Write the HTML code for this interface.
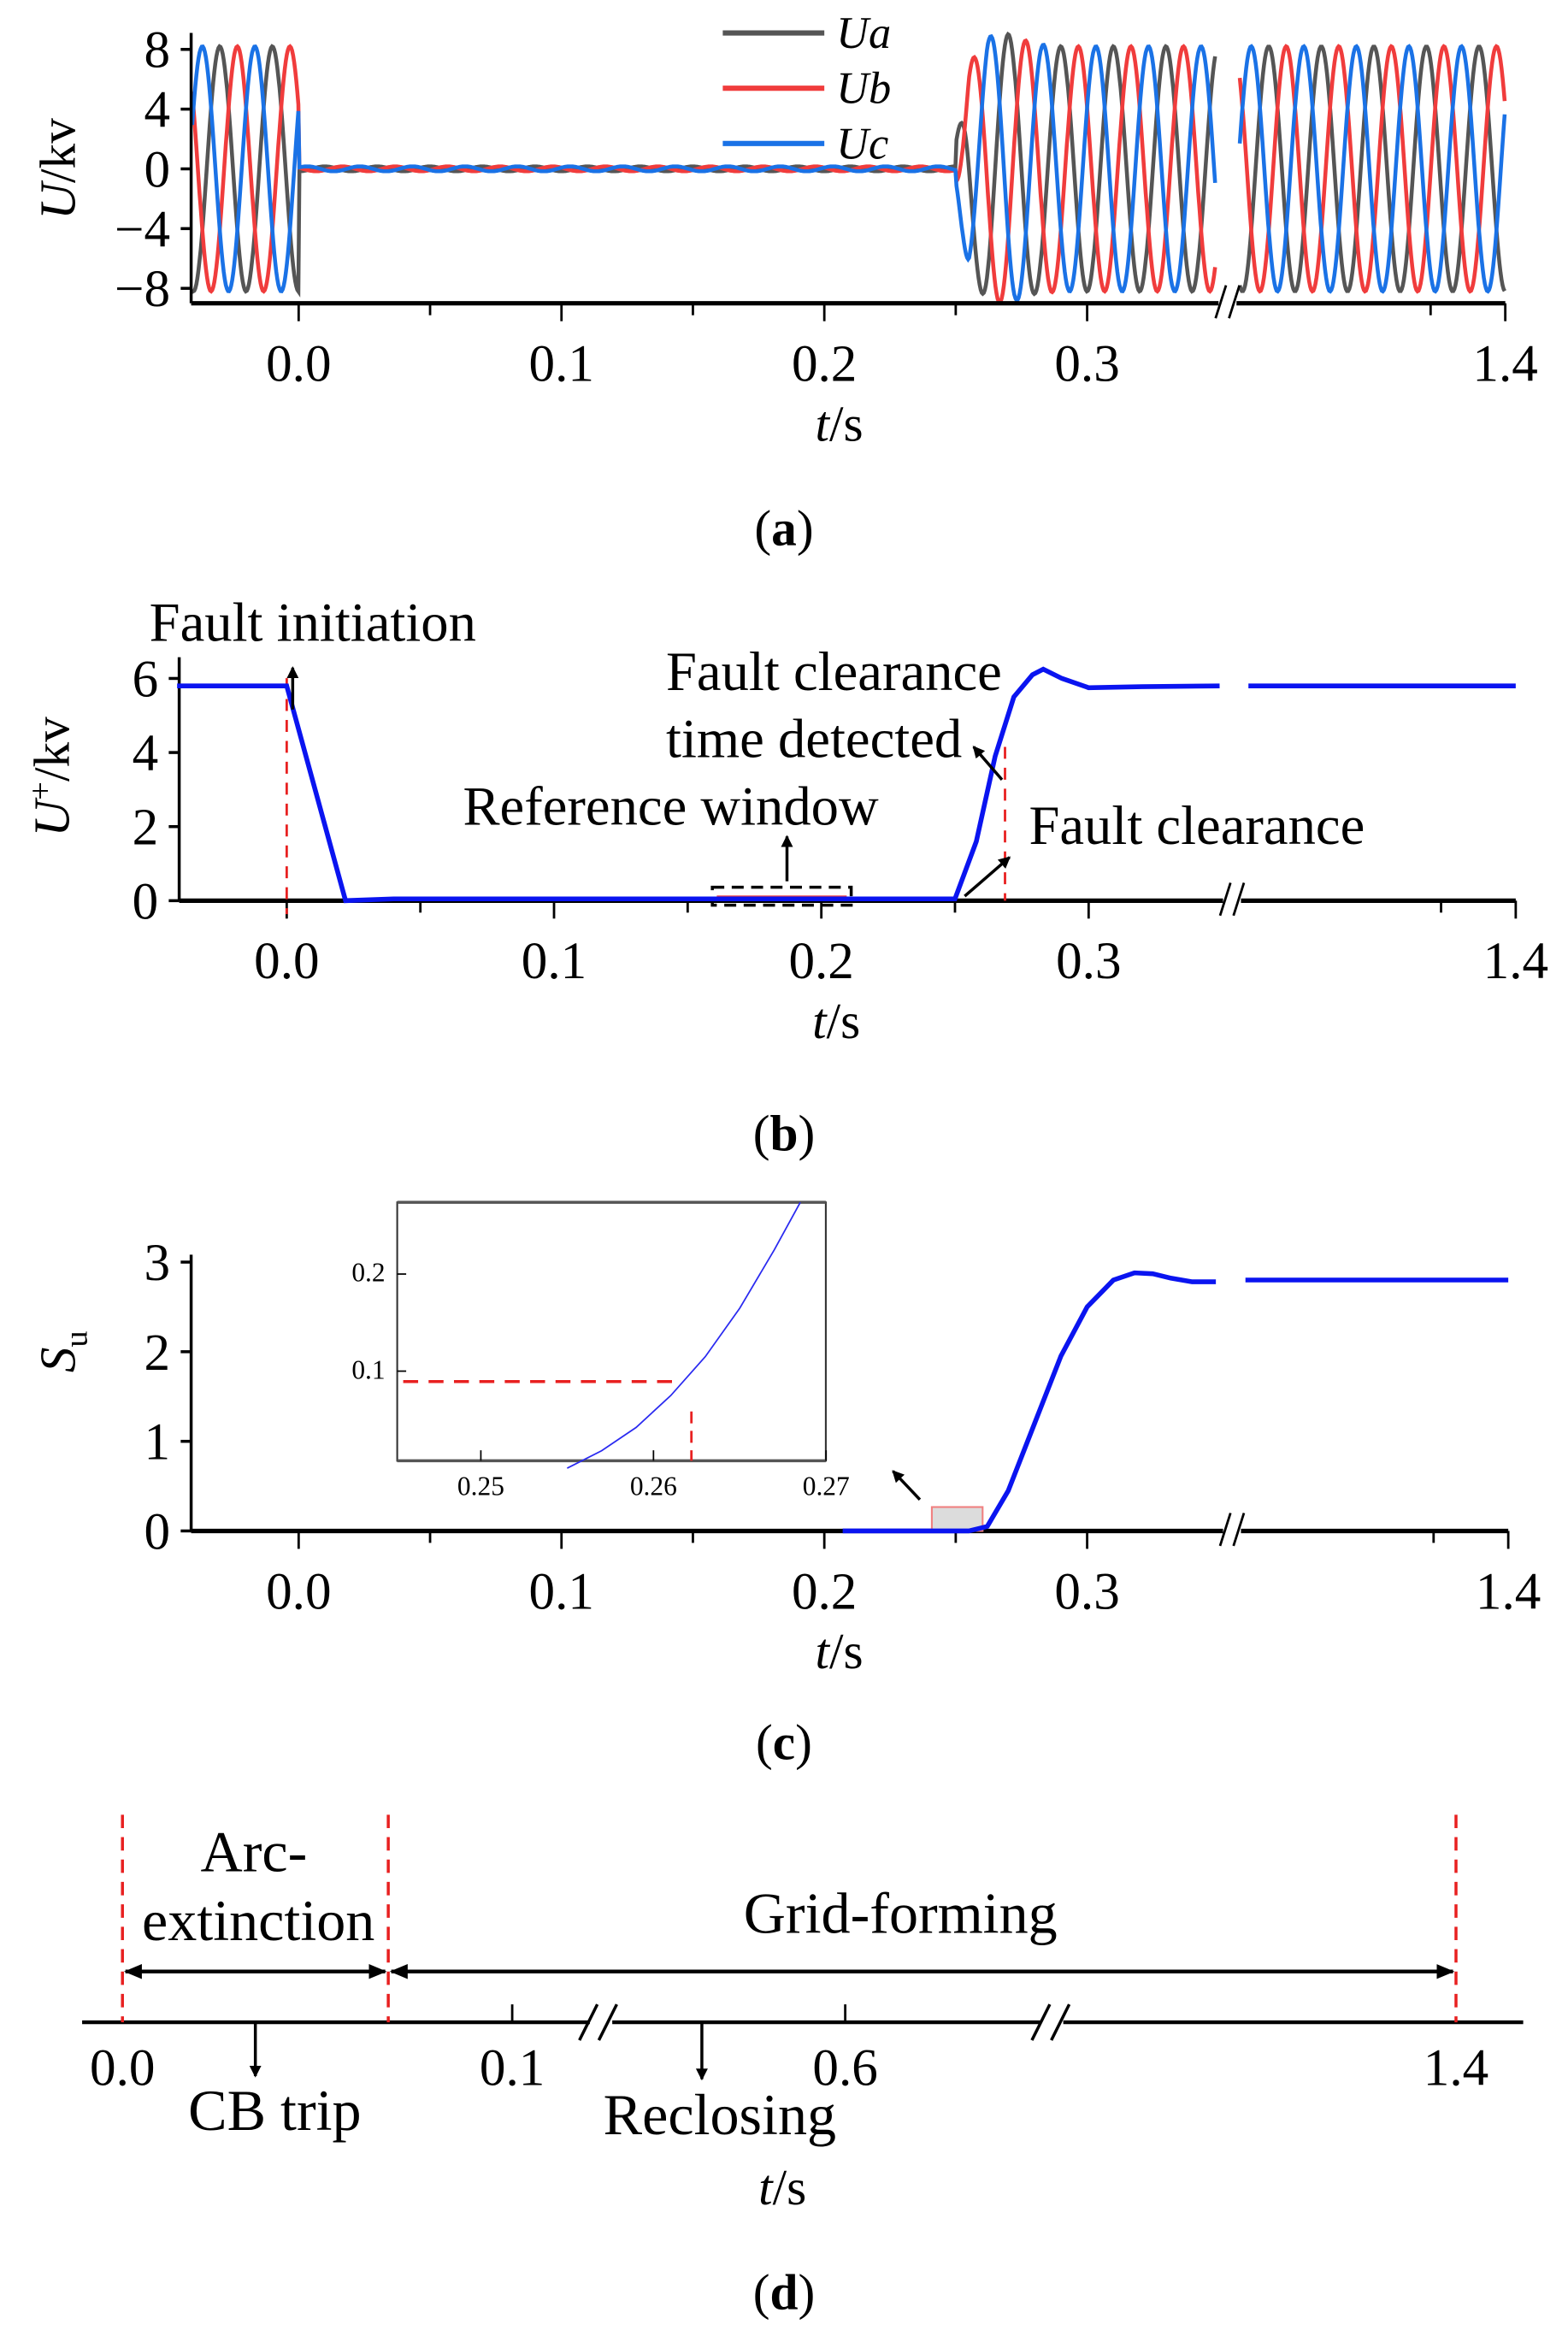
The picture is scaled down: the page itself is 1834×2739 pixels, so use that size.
<!DOCTYPE html>
<html><head><meta charset="utf-8"><style>
html,body{margin:0;padding:0;background:#fff;}
svg{display:block;}
text{font-family:"Liberation Serif",serif;fill:#000;}
</style></head><body>
<svg id="fig" width="1834" height="2739" viewBox="0 0 1050 1568" xmlns="http://www.w3.org/2000/svg">
<defs>
<marker id="ah" markerWidth="8" markerHeight="8" refX="7" refY="4" orient="auto" markerUnits="userSpaceOnUse"><path d="M0,0 L8,4 L0,8 z" fill="#000"/></marker>
<marker id="ah2" markerWidth="12" markerHeight="10" refX="11" refY="5" orient="auto" markerUnits="userSpaceOnUse"><path d="M0,0 L12,5 L0,10 z" fill="#000"/></marker>
<marker id="ah2s" markerWidth="12" markerHeight="10" refX="1" refY="5" orient="auto" markerUnits="userSpaceOnUse"><path d="M12,0 L0,5 L12,10 z" fill="#000"/></marker>
</defs>
<g id="pa"></g>
<g id="pb"></g>
<g id="pc"></g>
<g id="pd"></g>
</svg>
<script>
// ---- Panel (a) data ----
const phaseNames = ["Ua","Ub","Uc"];
const phaseColors = ["#555555","#f03c3c","#1a72e6"];
const phaseAmp = [8.2, 8.2, 8.2];
const phaseDeg = [-90, 150, 30];
const transientTimes = [0.25, 0.255, 0.262, 0.27, 0.28, 0.29];
const transientGain = [0.2, 0.85, 1.08, 1.1, 1.02, 1.0];
const faultStart = 0, faultEnd = 0.25;
const aYTicks = [8,4,0,-4,-8];
const aYTickLabels = ["8","4","0","\u22124","\u22128"];
const xTickVals = [0.0,0.1,0.2,0.3,1.4];
const xTickLabels = ["0.0","0.1","0.2","0.3","1.4"];
// ---- Panel (b) data ----
const bT = [-0.041,0.0,0.022,0.04,0.25,0.258,0.265,0.272,0.279,0.283,0.29,0.3,0.32,0.349];
const bV = [5.8,5.8,0.0,0.05,0.05,1.6,3.9,5.5,6.1,6.25,6.0,5.75,5.78,5.8];
const bT2 = [1.3,1.4];
const bV2 = [5.8,5.8];
const bYTicks = [6,4,2,0];
// ---- Panel (c) data ----
const cT = [0.207,0.255,0.262,0.27,0.28,0.29,0.3,0.31,0.318,0.325,0.332,0.34,0.349];
const cV = [0.0,0.0,0.05,0.45,1.2,1.95,2.5,2.8,2.88,2.87,2.82,2.78,2.78];
const cT2 = [1.3,1.4];
const cV2 = [2.8,2.8];
const cYTicks = [3,2,1,0];
const insetT = [0.2550,0.2570,0.2590,0.2610,0.2630,0.2650,0.2670,0.2685];
const insetV = [0.0,0.018,0.042,0.075,0.115,0.165,0.225,0.28];
const insetXTicks = [0.25,0.26,0.27];
const insetYTicks = [0.2,0.1];

const NS="http://www.w3.org/2000/svg";
function mk(parent,tag,attrs,text){const e=document.createElementNS(NS,tag);for(const k in attrs)e.setAttribute(k,attrs[k]);if(text!==undefined)e.textContent=text;parent.appendChild(e);return e;}
function line(p,x1,y1,x2,y2,st,w,dash){return mk(p,"line",{x1,y1,x2,y2,stroke:st,"stroke-width":w,"stroke-dasharray":dash||"none"});}

function buildAxes(g, cfg){
  const ya=line(g,cfg.x0,cfg.yTop,cfg.x0,cfg.yBot,"#000",2);
  
  
  const xa1=line(g,cfg.x0,cfg.yBot,cfg.brk-6,cfg.yBot,"#000",3);
  
  
  line(g,cfg.brk+6,cfg.yBot,cfg.xEnd,cfg.yBot,"#000",3);
  line(g,cfg.brk-8,cfg.yBot+10,cfg.brk-1,cfg.yBot-12,"#000",1.6);
  line(g,cfg.brk+1,cfg.yBot+10,cfg.brk+8,cfg.yBot-12,"#000",1.6);
  cfg.yTicks.forEach((v,i)=>{const y=cfg.ys(v);line(g,cfg.x0-7,y,cfg.x0,y,"#000",2);
    const t=mk(g,"text",{x:cfg.x0-14,y:y+12,"font-size":35,"text-anchor":"end"},cfg.yLabels?cfg.yLabels[i]:String(v));
    
    });
  xTickVals.forEach((v,i)=>{const x=cfg.xs(v);line(g,x,cfg.yBot,x,cfg.yBot+12,"#000",1.6);
    const t=mk(g,"text",{x:x,y:cfg.yBot+52,"font-size":35,"text-anchor":"middle"},xTickLabels[i]);
    
    });
  [0.05,0.15,0.25].forEach(v=>{const x=cfg.xs(v);line(g,x,cfg.yBot,x,cfg.yBot+8,"#000",1.6);});
  line(g,cfg.xEnd-50,cfg.yBot,cfg.xEnd-50,cfg.yBot+8,"#000",1.6);
  const t=mk(g,"text",{x:cfg.xs(0.2)+10,y:cfg.yBot+92,"font-size":34,"text-anchor":"middle"});
  mk(t,"tspan",{"font-style":"italic"},"t");mk(t,"tspan",{},"/s");
  
  
}
function panelLabel(g,x,y,l){const t=mk(g,"text",{x,y,"font-size":34,"text-anchor":"middle"});
  mk(t,"tspan",{},"(");mk(t,"tspan",{"font-weight":"bold"},l);mk(t,"tspan",{},")");
  
  }

// ===== Panel A =====
(function(){
  const g=document.getElementById("pa");
  const xs=t=> t<1? 200+t*1760 : 1008-(1.4-t)*1760;
  const ys=v=>113-v*10;
  const cfg={x0:128,yTop:22,yBot:203,brk:822,xEnd:1008,xs,ys,yTicks:aYTicks,yLabels:aYTickLabels};
  function gain(t){ if(t<faultStart) return 1; if(t<faultEnd) return 0.02;
    for(let i=transientTimes.length-1;i>=0;i--){ if(t>=transientTimes[i]){ if(i===transientTimes.length-1) return transientGain[i];
      const f=(t-transientTimes[i])/(transientTimes[i+1]-transientTimes[i]); return transientGain[i]+f*(transientGain[i+1]-transientGain[i]);}}
    return 1;}
  phaseNames.forEach((nm,k)=>{
    const segs=[[-0.0405,0.349],[1.299,1.4]];
    segs.forEach(s=>{let d="";for(let t=s[0];t<=s[1]+1e-9;t+=0.0004){
      const v=phaseAmp[k]*gain(t)*Math.sin(2*Math.PI*50*t+phaseDeg[k]*Math.PI/180);
      d+=(d?"L":"M")+xs(t).toFixed(1)+","+ys(v).toFixed(1);}
      const p=mk(g,"path",{d,fill:"none",stroke:phaseColors[k],"stroke-width":2.6});
      
      });
    const ly=22+k*37;
    const ll=line(g,484,ly,552,ly,phaseColors[k],3.5);
    
    
    const lt=mk(g,"text",{x:560,y:ly+10,"font-size":30,"font-style":"italic"},nm);
    
    
  });
  buildAxes(g,cfg);
  const yt=mk(g,"text",{transform:"translate(50,113) rotate(-90)","font-size":34,"text-anchor":"middle"});
  mk(yt,"tspan",{"font-style":"italic"},"U");mk(yt,"tspan",{},"/kv");
  
  
  panelLabel(g,525,365,"a");
})();

// ===== Panel B =====
(function(){
  const g=document.getElementById("pb");
  const xs=t=> t<1? 192+t*1790 : 1015-(1.4-t)*1790;
  const ys=v=>603-v*24.8;
  const cfg={x0:120,yTop:440,yBot:603,brk:825,xEnd:1015,xs,ys,yTicks:bYTicks};
  buildAxes(g,cfg);
  const yt=mk(g,"text",{transform:"translate(46,520) rotate(-90)","font-size":34,"text-anchor":"middle"});
  mk(yt,"tspan",{"font-style":"italic"},"U");mk(yt,"tspan",{"font-size":22,dy:-12},"+");mk(yt,"tspan",{dy:12},"/kv");
  
  
  const rb=mk(g,"rect",{x:477,y:594,width:93,height:12,fill:"none",stroke:"#000","stroke-width":2,"stroke-dasharray":"8,5"});
  
  
  line(g,480,601,567,601,"#f04848",3);
  const d1=line(g,192,454,192,612,"#e82020",1.6,"8,6");
  
  
  const d2=line(g,673,500,673,603,"#e82020",1.6,"8,6");
  
  
  let d="";bT.forEach((t,i)=>{d+=(i?"L":"M")+xs(t).toFixed(1)+","+ys(bV[i]).toFixed(1);});
  const p=mk(g,"path",{d,fill:"none",stroke:"#0a14f0","stroke-width":3.2});
  
  
  let d2s="";bT2.forEach((t,i)=>{d2s+=(i?"L":"M")+xs(t).toFixed(1)+","+ys(bV2[i]).toFixed(1);});
  mk(g,"path",{d:d2s,fill:"none",stroke:"#0a14f0","stroke-width":3.2});
  line(g,196,475,196,447,"#000",2).setAttribute("marker-end","url(#ah)");
  line(g,527,590,527,560,"#000",2).setAttribute("marker-end","url(#ah)");
  line(g,671,522,652,500,"#000",2).setAttribute("marker-end","url(#ah)");
  line(g,646,600,676,574,"#000",2).setAttribute("marker-end","url(#ah)");
  [["Fault initiation",100,429,"fault-initiation-label"],["Fault clearance",446,462,"fault-clearance-detected-label"],["time detected",446,507,"time-detected-label"],["Reference window",310,552,"reference-window-label"],["Fault clearance",689,565,"fault-clearance-label"]].forEach(a=>{
    const t=mk(g,"text",{x:a[1],y:a[2],"font-size":37},a[0]);
    
    });
  panelLabel(g,525,770,"b");
})();

// ===== Panel C =====
(function(){
  const g=document.getElementById("pc");
  const xs=t=> t<1? 200+t*1760 : 1010-(1.4-t)*1760;
  const ys=v=>1025-v*60;
  const cfg={x0:128,yTop:840,yBot:1025,brk:825,xEnd:1010,xs,ys,yTicks:cYTicks};
  buildAxes(g,cfg);
  const yt=mk(g,"text",{transform:"translate(50,905) rotate(-90)","font-size":34,"text-anchor":"middle"});
  mk(yt,"tspan",{"font-style":"italic"},"S");mk(yt,"tspan",{"font-size":22,dy:8},"u");
  
  
  const hb=mk(g,"rect",{x:624,y:1009,width:34,height:16,fill:"#dcdcdc",stroke:"#f08080","stroke-width":1.2});
  
  
  let d="";cT.forEach((t,i)=>{d+=(i?"L":"M")+xs(t).toFixed(1)+","+ys(cV[i]).toFixed(1);});
  const p=mk(g,"path",{d,fill:"none",stroke:"#0a14f0","stroke-width":3.2,"stroke-linejoin":"round"});
  
  
  let d2="";cT2.forEach((t,i)=>{d2+=(i?"L":"M")+xs(t).toFixed(1)+","+ys(cV2[i]).toFixed(1);});
  mk(g,"path",{d:d2,fill:"none",stroke:"#0a14f0","stroke-width":3.2});
  line(g,616,1004,598,985,"#000",2).setAttribute("marker-end","url(#ah)");
  const ig=mk(g,"g",{});
  
  
  const ixs=t=>322+(t-0.25)*11560;
  const iys=v=>983-v*650;
  mk(ig,"rect",{x:266,y:805,width:287,height:173,fill:"#fff",stroke:"#333","stroke-width":1.2});
  line(ig,266,805,553,805,"#555",2);line(ig,266,978,553,978,"#555",2);
  insetXTicks.forEach(v=>{const x=ixs(v);line(ig,x,978,x,971,"#000",1);
    mk(ig,"text",{x:x,y:1001,"font-size":18,"text-anchor":"middle"},v.toFixed(2));});
  insetYTicks.forEach(v=>{const y=iys(v);line(ig,266,y,272,y,"#000",1);
    mk(ig,"text",{x:258,y:y+5,"font-size":18,"text-anchor":"end"},v.toFixed(1));});
  let di="";insetT.forEach((t,i)=>{di+=(i?"L":"M")+ixs(t).toFixed(1)+","+Math.max(805,iys(insetV[i])).toFixed(1);});
  const ip=mk(ig,"path",{d:di,fill:"none",stroke:"#2a2af0","stroke-width":1});
  
  
  line(ig,270,925,455,925,"#e82020",2,"10,7");
  line(ig,463,945,463,978,"#e82020",1.6,"8,5");
  panelLabel(g,525,1178,"c");
})();

// ===== Panel D =====
(function(){
  const g=document.getElementById("pd");
  const ya=1354;
  const al1=line(g,55,ya,395,ya,"#000",2.5);
  
  
  line(g,410,ya,697,ya,"#000",2.5);line(g,712,ya,1020,ya,"#000",2.5);
  [[388,ya+12,400,ya-12],[401,ya+12,413,ya-12],[691,ya+12,703,ya-12],[704,ya+12,716,ya-12]].forEach(a=>line(g,a[0],a[1],a[2],a[3],"#000",2));
  [343,566].forEach(x=>line(g,x,ya,x,ya-12,"#000",1.6));
  [82,260,975].forEach((x,i)=>{const l=line(g,x,1215,x,ya,"#e82020",2,"9,6");
    
    });
  const a1=line(g,84,1320,258,1320,"#000",2.5);a1.setAttribute("marker-end","url(#ah2)");a1.setAttribute("marker-start","url(#ah2s)");
  
  
  const a2=line(g,262,1320,973,1320,"#000",2.5);a2.setAttribute("marker-end","url(#ah2)");a2.setAttribute("marker-start","url(#ah2s)");
  
  
  line(g,171,ya,171,1390,"#000",2).setAttribute("marker-end","url(#ah)");
  line(g,470,ya,470,1392,"#000",2).setAttribute("marker-end","url(#ah)");
  [["0.0",82,1396],["0.1",343,1396],["0.6",566,1396],["1.4",975,1396]].forEach(a=>{
    const t=mk(g,"text",{x:a[1],y:a[2],"font-size":35,"text-anchor":"middle"},a[0]);
    
    });
  [["Arc-",170,1253,"arc-label"],["extinction",173,1299,"extinction-label"],["Grid-forming",603,1294,"grid-forming-label"],["CB trip",184,1426,"cb-trip-label"],["Reclosing",482,1429,"reclosing-label"]].forEach(a=>{
    const t=mk(g,"text",{x:a[1],y:a[2],"font-size":39,"text-anchor":"middle"},a[0]);
    
    });
  const t=mk(g,"text",{x:524,y:1476,"font-size":34,"text-anchor":"middle"});
  mk(t,"tspan",{"font-style":"italic"},"t");mk(t,"tspan",{},"/s");
  
  
  panelLabel(g,525,1546,"d");
})();
</script>
</body></html>
